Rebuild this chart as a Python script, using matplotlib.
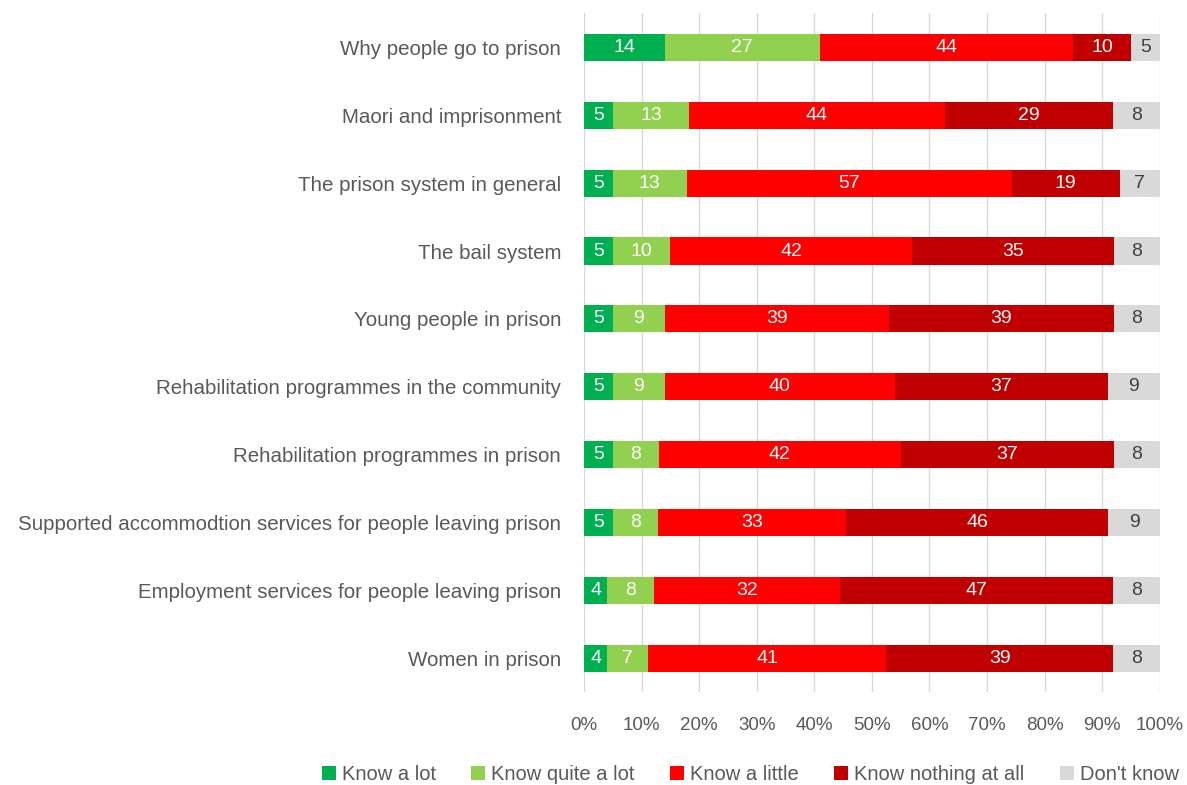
import matplotlib.pyplot as plt
import numpy as np

plt.rcParams['font.family'] = ['Liberation Sans', 'DejaVu Sans']

topics = ['Why people go to prison',
          'Maori and imprisonment',
          'The prison system in general',
          'The bail system',
          'Young people in prison',
          'Rehabilitation programmes in the community',
          'Rehabilitation programmes in prison',
          'Supported accommodtion services for people leaving prison',
          'Employment services for people leaving prison',
          'Women in prison']

know_lot = [14, 5, 5, 5, 5, 5, 5, 5, 4, 4]
know_quite = [27, 13, 13, 10, 9, 9, 8, 8, 8, 7]
know_little = [44, 44, 57, 42, 39, 40, 42, 33, 32, 41]
know_nothing = [10, 29, 19, 35, 39, 37, 37, 46, 47, 39]
dont_know = [5, 8, 7, 8, 8, 9, 8, 9, 8, 8]

series_names = ['Know a lot', 'Know quite a lot', 'Know a little',
                'Know nothing at all', "Don't know"]
colors = ['#00B050', '#92D050', '#FF0000', '#C00000', '#D9D9D9']
text_colors = ['white', 'white', 'white', 'white', '#404040']

data = np.array([know_lot, know_quite, know_little, know_nothing, dont_know], dtype=float)
totals = data.sum(axis=0)
shares = data / totals * 100

fig = plt.figure(figsize=(11.87, 7.85), dpi=100)
ax = fig.add_axes([0.492, 0.118, 0.485, 0.865])

y = np.arange(len(topics))
left = np.zeros(len(topics))
for i, name in enumerate(series_names):
    ax.barh(y, shares[i], left=left, height=0.4, color=colors[i],
            label=name, zorder=3)
    for j in range(len(topics)):
        ax.text(left[j] + shares[i][j] / 2, y[j], f'{int(data[i][j])}',
                ha='center', va='center', fontsize=14,
                color=text_colors[i], zorder=4)
    left += shares[i]

ax.set_xlim(0, 100)
ax.set_ylim(len(topics) - 0.5, -0.5)
ax.set_xticks(np.arange(0, 101, 10))
ax.set_xticklabels([f'{v}%' for v in range(0, 101, 10)])
ax.set_yticks(y)
ax.set_yticklabels(topics)
ax.tick_params(axis='both', length=0, labelcolor='#595959')
ax.tick_params(axis='x', pad=18, labelsize=13.5)
ax.tick_params(axis='y', pad=16.5, labelsize=14.8)
ax.grid(axis='x', color='#D9D9D9', linewidth=1, zorder=0)
for s in ax.spines.values():
    s.set_visible(False)

handles, labels = ax.get_legend_handles_labels()
fig.legend(handles, labels, loc='center', bbox_to_anchor=(0.632, 0.013),
           ncol=5, frameon=False, fontsize=14.5, handlelength=0.7,
           handleheight=0.7, handletextpad=0.3, columnspacing=1.75,
           labelcolor='#595959')

fig.savefig('out.png', dpi=100, facecolor='white')
